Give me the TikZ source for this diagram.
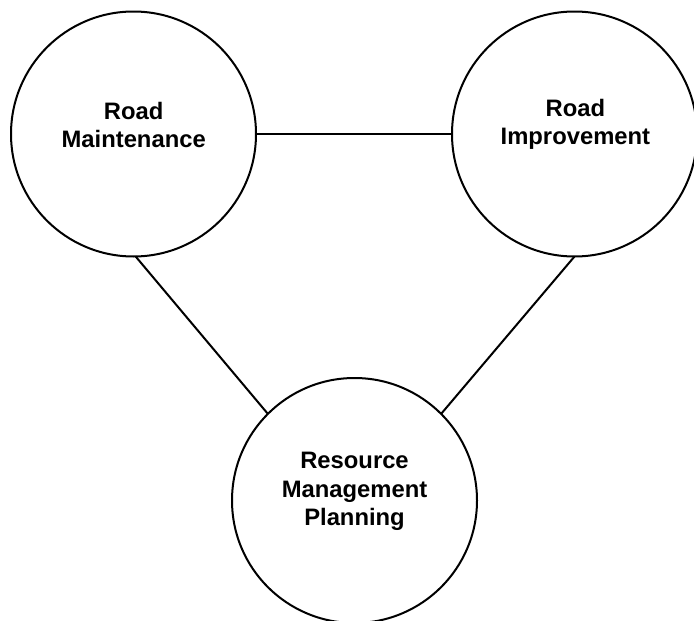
\documentclass[tikz,border=0pt]{standalone}
\usepackage{fontspec}
\setmainfont{Liberation Sans}
\begin{document}
\begin{tikzpicture}[x=1pt,y=-1pt,
  area/.style={circle,draw=black,line width=2pt,minimum size=245pt,inner sep=0pt,outer sep=0pt},
  areatext/.style={align=center,inner sep=0pt,font=\fontsize{23.8}{28.5}\selectfont\bfseries},
  link/.style={draw=black,line width=2pt}]
  \useasboundingbox (0,0) rectangle (694,621);
  % the three planning areas
  \node[area] (maint) at (133.5,134) {};
  \node[area] (improve) at (574.5,134) {};
  \node[area] (resource) at (354.5,500.5) {};
  % their titles
  \node[areatext] (maintT) at (133.7,125.2) {Road\\Maintenance};
  \node[areatext] (improveT) at (575.4,124.2) {Road\\Improvement};
  \node[areatext] (resourceT) at (354.5,491.5) {Resource\\Management\\Planning};
  % links between the areas
  \draw[link] (maint.east) -- (improve.west);
  \draw[link] (maint.-89) -- (resource.135);
  \draw[link] (improve.-90) -- (resource.45);
\end{tikzpicture}
\end{document}
